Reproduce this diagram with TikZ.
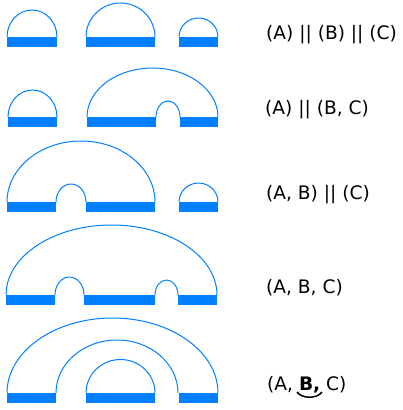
\documentclass[tikz,border=0pt]{standalone}
\usepackage{fontspec}
\setmainfont{DejaVu Sans}
\usepackage{tikz}
\usetikzlibrary{positioning}
\definecolor{domeblue}{RGB}{0,128,255}
\tikzset{
    arcline/.style={draw=domeblue, line width=1pt},
    bar/.style={fill=domeblue},
    label/.style={anchor=west, inner sep=0pt, font=\fontsize{18.6}{21}\selectfont}
}
% dome outline: centre x, base y, x radius, y radius
\newcommand{\dome}[4]{\draw[arcline] (#1-#3,#2) arc[start angle=180, end angle=360, x radius=#3, y radius=#4];}
% base bar: left x, right x, base y
\newcommand{\basebar}[3]{\fill[bar] (#1,#2) rectangle (#3,#2+10);}

\begin{document}
\begin{tikzpicture}[x=1pt, y=-1pt]
    \useasboundingbox (0,0) rectangle (403,410);

    % row 1: (A) || (B) || (C)
    \dome{32}{37}{25}{27}
    \dome{120.5}{37}{34.5}{34}
    \dome{198.5}{37}{19.5}{19}
    \basebar{7}{37}{57}
    \basebar{86}{37}{155}
    \basebar{179}{37}{218}
    \node[label] (rowone) at (266,35) {(A) || (B) || (C)};

    % row 2: (A) || (B, C)
    \dome{32.5}{117}{24.5}{27}
    \dome{152.5}{117}{65.5}{49}
    \dome{168}{117}{12}{16}
    \basebar{8}{117}{57}
    \basebar{87}{117}{156}
    \basebar{180}{117}{218}
    \node[label] (rowtwo) at (265,110) {(A) || (B, C)};

    % row 3: (A, B) || (C)
    \dome{81}{202}{74}{61}
    \dome{71}{202}{15}{18}
    \dome{198.5}{202}{19.5}{19}
    \basebar{7}{202}{56}
    \basebar{86}{202}{155}
    \basebar{179}{202}{218}
    \node[label] (rowthree) at (266,195) {(A, B) || (C)};

    % row 4: (A, B, C)
    \dome{111.5}{295}{105.5}{70}
    \dome{69.5}{295}{14.5}{18}
    \dome{166.5}{295}{11.5}{15}
    \basebar{6}{295}{55}
    \basebar{84}{295}{155}
    \basebar{178}{295}{217}
    \node[label] (rowfour) at (266,288) {(A, B, C)};

    % row 5: (A, B, C) nested
    \dome{112.5}{393}{105.5}{75}
    \dome{117}{393}{61}{53}
    \dome{120.5}{393}{34.5}{33.5}
    \basebar{7}{393}{56}
    \basebar{86}{393}{155}
    \basebar{179}{393}{218}
    \node[label] (rowfive) at (267,385) {(A, \textbf{B,} C)};
    \draw[line width=1.5pt] (297,392) .. controls (302,399) and (317,399) .. (322,392);
\end{tikzpicture}
\end{document}
